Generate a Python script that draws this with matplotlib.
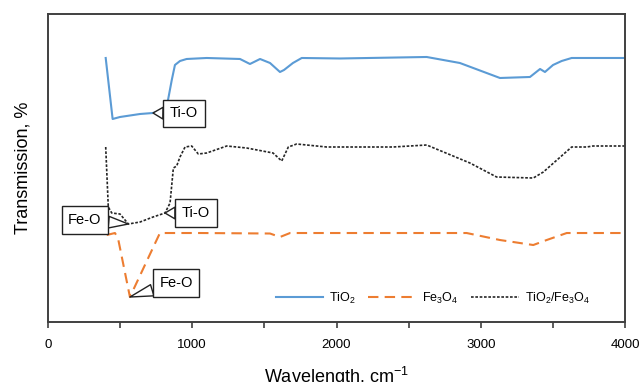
import matplotlib
matplotlib.use("Agg")
import matplotlib.pyplot as plt

plt.rcParams["font.family"] = ["Liberation Sans", "DejaVu Sans"]
plt.rcParams["mathtext.fontset"] = "custom"
plt.rcParams["mathtext.rm"] = "Liberation Sans"

# TiO2 spectrum (arbitrary transmission units)
tio2_x = [400, 448, 499, 638, 728, 797, 832, 858, 880, 915, 961, 1100, 1331, 1400,
          1470, 1539, 1608, 1636, 1698, 1759, 2024, 2625, 2855, 3133, 3341, 3411,
          3445, 3501, 3561, 3630, 4000]
tio2_y = [264, 203, 205, 208, 209, 212, 222, 242, 257, 261, 263, 264, 263, 258,
          263, 259, 250, 252, 259, 264, 263.5, 265, 259, 244, 245, 253,
          250, 257, 261, 264, 264]

# Fe3O4 spectrum
fe_x = [407, 464, 485, 568, 753, 776, 1054, 1539, 1608, 1678, 2902, 3133, 3364,
        3457, 3596, 4000]
fe_y = [87, 89, 84, 25, 82, 89, 89, 88.5, 85, 89, 89, 82, 77,
        82, 89, 89]

# TiO2/Fe3O4 composite
mix_x = [400, 418, 442, 499, 534, 557, 638, 728, 811, 846, 869, 892, 915, 950,
         996, 1042, 1100, 1239, 1377, 1560, 1620, 1666, 1724, 1932, 2392, 2625,
         2925, 3110, 3364, 3434, 3630, 3734, 3778, 4000]
mix_y = [175, 115, 109, 108, 102, 98, 100, 105, 109, 119, 154, 156, 165, 175,
         176, 168, 169, 176, 174, 169, 161, 175, 178, 175, 175, 177,
         159, 145, 144, 150, 175, 175, 176, 176]

# callouts: label, pointed position, box centre
notes = [
    ("Ti-O", (728, 209), (943, 208.5)),
    ("Fe-O", (557, 98), (256, 102)),
    ("Ti-O", (811, 109), (1026, 109)),
    ("Fe-O", (568, 25), (887, 39)),
]

fig = plt.figure(figsize=(6.4, 3.82), dpi=100)
ax = fig.add_axes([0.075, 0.157, 0.9016, 0.8064])

ax.plot(tio2_x, tio2_y, color="#5B9BD5", lw=1.5, label=r"$\mathregular{TiO_2}$")
ax.plot(fe_x, fe_y, color="#ED7D31", lw=1.5, dashes=(5, 3),
        label=r"$\mathregular{Fe_3O_4}$")
ax.plot(mix_x, mix_y, color="#262626", lw=1.2, dashes=(1.6, 1.0),
        label=r"$\mathregular{TiO_2/Fe_3O_4}$")

for txt, pt, box in notes:
    ax.annotate(txt, xy=pt, xytext=box, ha="center", va="center", fontsize=10.5,
                bbox=dict(boxstyle="square,pad=0.45", fc="white", ec="#222222", lw=1),
                arrowprops=dict(arrowstyle="wedge,tail_width=0.8,shrink_factor=0.5",
                                fc="white", ec="#222222", lw=1,
                                shrinkA=0, shrinkB=0))

ax.set_xlim(0, 4000)
ax.set_ylim(0, 308)
ax.set_xticks(range(0, 4001, 1000))
ax.set_xticks(range(500, 4000, 1000), minor=True)
ax.set_yticks([])
ax.tick_params(axis="x", which="both", direction="out", length=4, width=1.2,
               color="#404040", labelsize=9.5, pad=8)
for s in ax.spines.values():
    s.set_color("#404040")
    s.set_linewidth(1.4)

ax.set_xlabel("Wavelength, cm$^{-1}$", fontsize=13, labelpad=10)
ax.set_ylabel("Transmission, %", fontsize=13, labelpad=12)

ax.legend(loc="center", bbox_to_anchor=(0.667, 0.078), ncol=3, frameon=False,
          fontsize=9, handlelength=3.8, handletextpad=0.5, columnspacing=1.0)

fig.savefig("out.png", dpi=100)
